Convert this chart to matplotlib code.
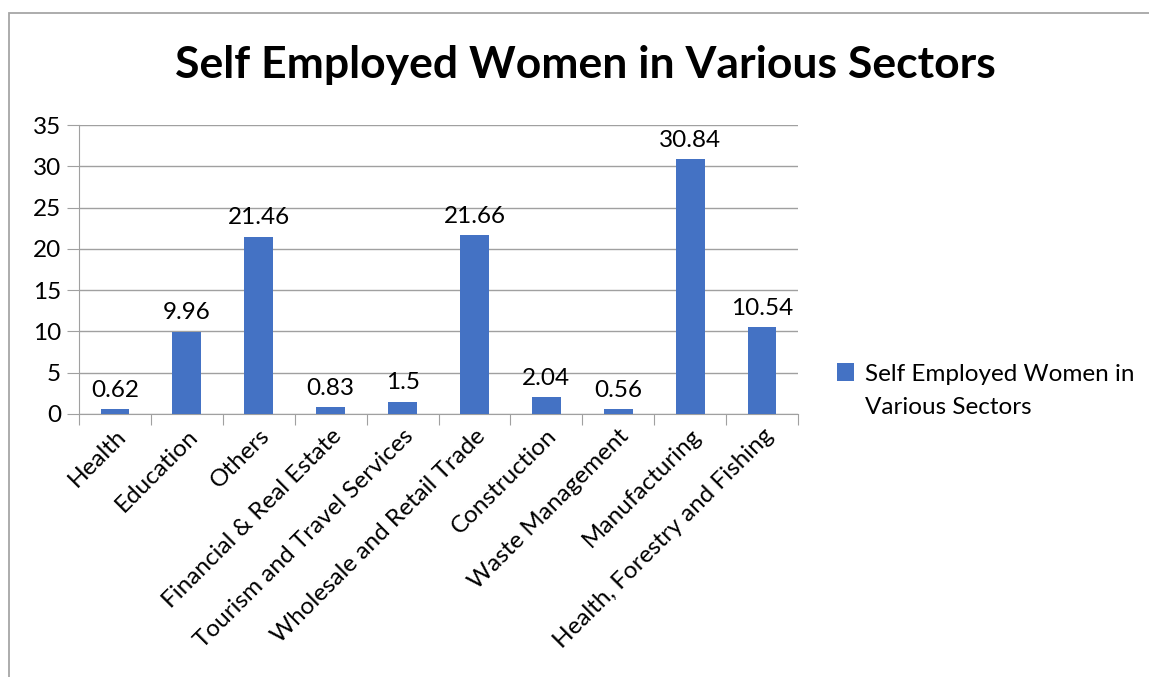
import matplotlib.pyplot as plt
from matplotlib.patches import Rectangle

sectors = ['Health', 'Education', 'Others', 'Financial & Real Estate',
           'Tourism and Travel Services', 'Wholesale and Retail Trade',
           'Construction', 'Waste Management', 'Manufacturing',
           'Health, Forestry and Fishing']
values = [0.62, 9.96, 21.46, 0.83, 1.5, 21.66, 2.04, 0.56, 30.84, 10.54]
value_labels = ['0.62', '9.96', '21.46', '0.83', '1.5', '21.66', '2.04', '0.56', '30.84', '10.54']
series_name = ['Self Employed Women in', 'Various Sectors']

plt.rcParams['font.family'] = ['Lato', 'DejaVu Sans']
fs = 17.5

fig = plt.figure(figsize=(11.49, 6.77), dpi=100)
ax = fig.add_axes([79 / 1149, 1 - 414 / 677, (798 - 79) / 1149, (414 - 125) / 677])

# outer chart frame (runs off the right and bottom edges)
fig.patches.append(Rectangle((9 / 1149, -0.1), 1.2, 1 - 13 / 677 + 0.1,
                             transform=fig.transFigure, fill=False,
                             edgecolor='#a6a6a6', linewidth=1.3))

x = list(range(len(sectors)))
bars = ax.bar(x, values, width=0.4, color='#4472c4', zorder=3,
              label=series_name[0])
for xi, v, lab in zip(x, values, value_labels):
    ax.annotate(lab, (xi, v), xytext=(0, 6), textcoords='offset points',
                ha='center', va='bottom', fontsize=fs)

ax.set_xlim(-0.5, len(sectors) - 0.5)
ax.set_ylim(0, 35)
ax.set_yticks(range(0, 36, 5))
ax.grid(axis='y', color='#a0a0a0', linewidth=1, zorder=0)
for s in ['top', 'right']:
    ax.spines[s].set_visible(False)
ax.spines['left'].set_color('#a0a0a0')
ax.spines['bottom'].set_color('#a0a0a0')
ax.tick_params(axis='y', length=9, color='#a0a0a0', labelsize=fs, pad=4)

ax.set_xticks([i - 0.5 for i in range(len(sectors) + 1)])
ax.set_xticklabels([])
ax.tick_params(axis='x', length=8, color='#a0a0a0')
ax.set_xticks(x, minor=True)
ax.set_xticklabels(sectors, minor=True, rotation=45, ha='right',
                   rotation_mode='anchor', fontsize=fs)
ax.tick_params(axis='x', which='minor', length=0, pad=8)

fig.text(585 / 1149, 1 - 65 / 677, 'Self Employed Women in Various Sectors',
         ha='center', va='center', fontsize=32, fontweight='bold')

leg = ax.legend(loc='center left', bbox_to_anchor=(815 / 1149, 1 - 374 / 677),
                bbox_transform=fig.transFigure, frameon=False, fontsize=fs,
                handlelength=0.7, handleheight=0.7, handletextpad=0.45)

# wrapped second line of the series name, aligned under the legend text
fig.canvas.draw()
bb = leg.get_texts()[0].get_window_extent()
fig.text(bb.x0 / fig.bbox.width, 1 - 407 / 677, series_name[1],
         ha='left', va='center', fontsize=fs)

fig.savefig('out.png', dpi=100)
